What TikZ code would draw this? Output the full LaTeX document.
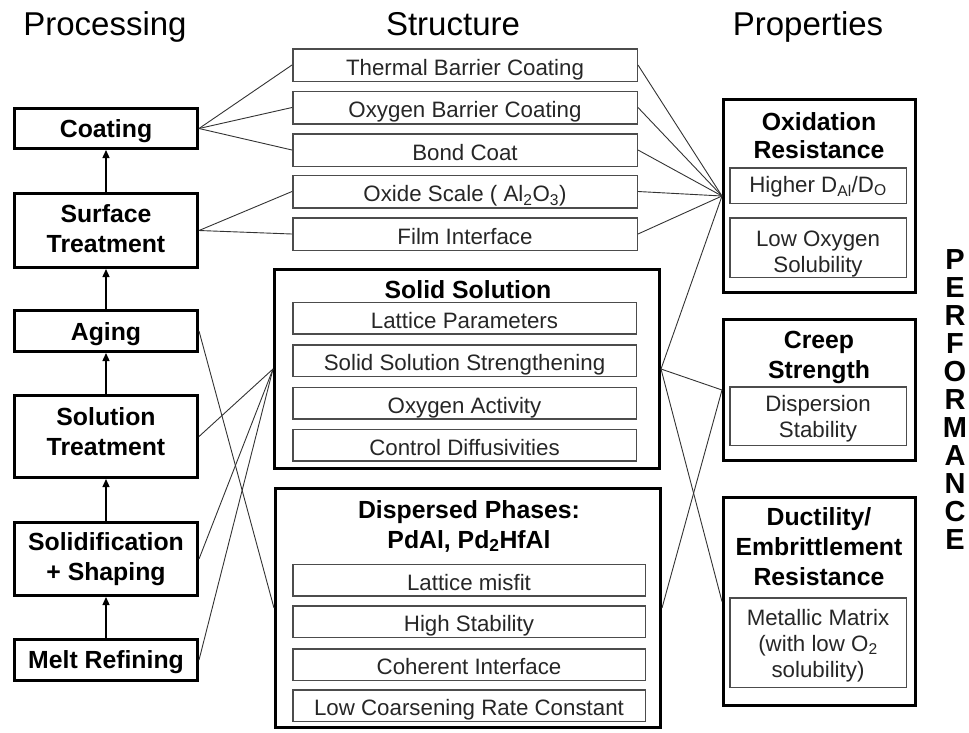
\documentclass[tikz,border=0pt]{standalone}
\usepackage{fontspec}
\setmainfont{Liberation Sans}
\usetikzlibrary{arrows.meta}

\begin{document}
\begin{tikzpicture}[x=1pt,y=-1pt,
	procbox/.style={draw, line width=3pt, minimum width=183pt, inner sep=0pt, align=center,
		font=\fontsize{24.8}{30}\selectfont\bfseries, text height=17pt, text depth=0pt},
	structbox/.style={draw=black!70, line width=1.5pt, minimum width=344.5pt, minimum height=32.5pt,
		inner sep=0pt, align=center, text=black!85, font=\fontsize{22.3}{26}\selectfont,
		text height=20pt, text depth=0pt},
	groupbox/.style={draw, line width=3pt, inner sep=0pt, minimum width=385pt},
	propbox/.style={groupbox, minimum width=192pt},
	innerbox/.style={structbox, minimum width=176.5pt},
	boxtitle/.style={inner sep=0pt, align=center, font=\fontsize{24.8}{30}\selectfont\bfseries,
		text height=0pt, text depth=0pt},
	heading/.style={anchor=base, inner sep=0pt, font=\fontsize{33}{40}\selectfont},
	perfletter/.style={anchor=base, inner sep=0pt, font=\fontsize{29}{29}\selectfont\bfseries},
	wire/.style={line width=0.9pt, black!80},
	uparrow/.style={line width=1.3pt, -{Triangle[length=8pt,width=7pt]}}]
	\newcommand{\procX}{106}
	\newcommand{\structX}{465}
	\newcommand{\propX}{819.5}
	\newcommand{\propinX}{818}

	\useasboundingbox (0,0) rectangle (969,732);

	% column headings
	\node[heading] (hproc) at (105,35) {Processing};
	\node[heading] (hstruct) at (453,35) {Structure};
	\node[heading] (hprop) at (808,35) {Properties};

	% processing steps (multi-line text sits on its last baseline)
	\node[procbox, minimum height=40pt] (coat) at (\procX,128.5) {Coating};
	\node[procbox, minimum height=74pt, text height=43pt] (surf) at (\procX,230.5) {Surface\\Treatment};
	\node[procbox, minimum height=41pt, text height=18pt] (aging) at (\procX,331) {Aging};
	\node[procbox, minimum height=82pt, text height=37pt] (soltr) at (\procX,436.5) {Solution\\Treatment};
	\node[procbox, minimum height=73pt, text height=42pt] (solid) at (\procX,559) {Solidification\\+ Shaping};
	\node[procbox, minimum height=41pt, text height=16pt] (melt) at (\procX,660) {Melt Refining};

	\draw[uparrow] (surf) -- (coat);
	\draw[uparrow] (aging) -- (surf);
	\draw[uparrow] (soltr) -- (aging);
	\draw[uparrow] (solid) -- (soltr);
	\draw[uparrow] (melt) -- (solid);

	% structure: coatings and scale
	\node[structbox] (tbc) at (\structX,65) {Thermal Barrier Coating};
	\node[structbox] (obc) at (\structX,107.5) {Oxygen Barrier Coating};
	\node[structbox] (bond) at (\structX,150) {Bond Coat};
	\node[structbox] (oxide) at (\structX,191.5) {Oxide Scale ( Al\textsubscript{2}O\textsubscript{3})};
	\node[structbox] (film) at (\structX,234) {Film Interface};

	% structure: solid solution
	\node[groupbox, minimum height=199pt] (ss) at (467,369) {};
	\node[boxtitle] (sstitle) at (468,298) {Solid Solution};
	\node[structbox, minimum width=343.5pt, minimum height=31.5pt] (lat) at (464.5,318) {Lattice Parameters};
	\node[structbox, minimum width=343.5pt, minimum height=31.5pt] (sss) at (464.5,360.5) {Solid Solution Strengthening};
	\node[structbox, minimum width=343.5pt, minimum height=31.5pt] (oa) at (464.5,403) {Oxygen Activity};
	\node[structbox, minimum width=343.5pt, minimum height=31.5pt] (cd) at (464.5,445) {Control Diffusivities};

	% structure: dispersed phases
	\node[groupbox, minimum height=239pt] (dp) at (468,608) {};
	\node[boxtitle] (dptitle) at (469,548) {Dispersed Phases:\\PdAl, Pd\textsubscript{2}HfAl};
	\node[structbox, minimum width=352.5pt, minimum height=31.5pt] (lm) at (469,580) {Lattice misfit};
	\node[structbox, minimum width=352.5pt, minimum height=31.5pt] (hs) at (469,621.5) {High Stability};
	\node[structbox, minimum width=352.5pt, minimum height=31.5pt] (ci) at (469,664.5) {Coherent Interface};
	\node[structbox, minimum width=352.5pt, minimum height=31.5pt] (lc) at (469,705.5) {Low Coarsening Rate Constant};

	% properties
	\node[propbox, minimum height=193pt] (oxid) at (\propX,196) {};
	\node[boxtitle, font=\fontsize{24.8}{28}\selectfont\bfseries] (oxtitle) at (819,158) {Oxidation\\Resistance};
	\node[innerbox, minimum height=35.5pt, text height=13pt] (higher) at (\propinX,185.5) {Higher D\textsubscript{Al}/D\textsubscript{O}};
	\node[innerbox, minimum height=59.5pt, text height=49pt] (lowox) at (\propinX,247.5) {Low Oxygen\\Solubility};

	\node[propbox, minimum height=141pt] (creep) at (\propX,390) {};
	\node[boxtitle] (crtitle) at (819,378) {Creep\\Strength};
	\node[innerbox, minimum height=58.5pt, text height=42pt] (disp) at (\propinX,416) {Dispersion\\Stability};

	\node[propbox, minimum height=208pt] (duct) at (\propX,601.5) {};
	\node[boxtitle] (dutitle) at (819,585) {Ductility/\\Embrittlement\\Resistance};
	\node[innerbox, minimum height=89.5pt, text height=69pt] (metal) at (\propinX,642.5) {Metallic Matrix\\(with low O\textsubscript{2}\\solubility)};

	% performance, one letter per line
	\foreach \ch [count=\i] in {P,E,R,F,O,R,M,A,N,C,E}
		\node[perfletter] (perf\i) at (955,{241+28*\i}) {\ch};

	% processing to structure
	\foreach \s in {tbc,obc,bond}
		\draw[wire] (coat.east) -- (\s.west);
	\foreach \s in {oxide,film}
		\draw[wire] (surf.east) -- (\s.west);
	\draw[wire] (aging.east) -- (dp.west);
	\foreach \p in {soltr,solid,melt}
		\draw[wire] (\p.east) -- (ss.west);

	% structure to properties
	\foreach \s in {tbc,obc,bond,oxide,film,ss}
		\draw[wire] (\s.east) -- (oxid.west);
	\draw[wire] (ss.east) -- (creep.west);
	\draw[wire] (ss.east) -- (duct.west);
	\draw[wire] (dp.east) -- (creep.west);
\end{tikzpicture}
\end{document}
